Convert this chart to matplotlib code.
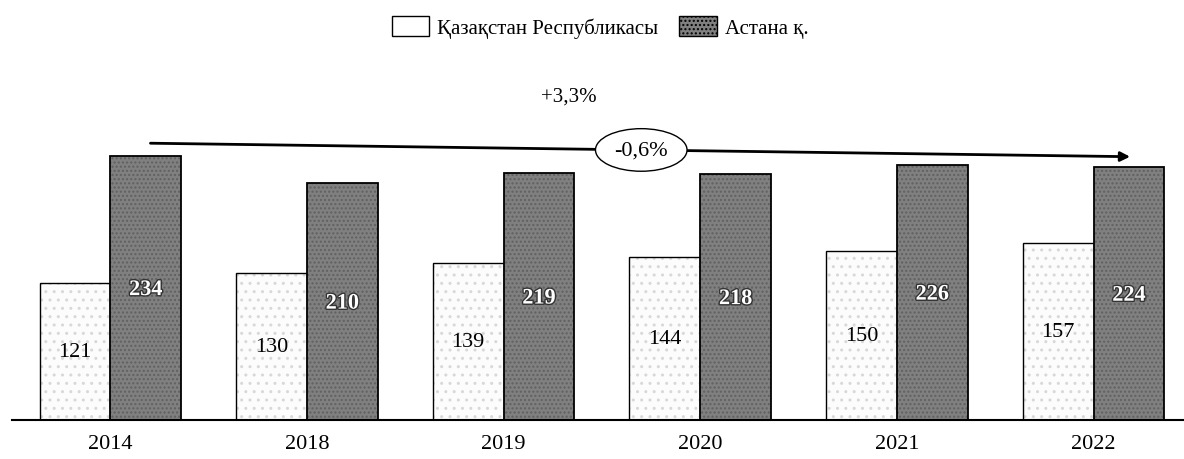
import numpy as np
import matplotlib.pyplot as plt
import matplotlib.patheffects as pe
from matplotlib.patches import Patch

# data
years = ["2014", "2018", "2019", "2020", "2021", "2022"]
kz = [121, 130, 139, 144, 150, 157]
astana = [234, 210, 219, 218, 226, 224]
series_names = ["Қазақстан Республикасы", "Астана қ."]
growth_top = "+3,3%"
growth_arrow = "-0,6%"

plt.rcParams['font.family'] = ['Liberation Serif', 'DejaVu Serif']

fig = plt.figure(figsize=(11.84, 4.6), dpi=100)
ax = fig.add_axes([12 / 1184, 39 / 460, 1172 / 1184, 361 / 460])

x = np.arange(len(years))
w = 0.36

# light bars: fine stipple first, then outline
ax.bar(x - w / 2, kz, w, color="#fcfcfc", hatch="..", edgecolor="#d8d8d8", lw=0)
ax.bar(x - w / 2, kz, w, fill=False, edgecolor="black", lw=1.0)
# dark bars: mottled grey
ax.bar(x + w / 2, astana, w, color="#808080", hatch="....", edgecolor="#606060", lw=0)
ax.bar(x + w / 2, astana, w, fill=False, edgecolor="black", lw=1.3)

for xi, v in zip(x, kz):
    ax.text(xi - w / 2, v / 2, str(v), ha="center", va="center", fontsize=16)
for xi, v in zip(x, astana):
    ax.text(xi + w / 2, v / 2 - 2, str(v), ha="center", va="center", fontsize=16,
            color="white", fontweight="bold",
            path_effects=[pe.withStroke(linewidth=2, foreground="#333333")])

# trend arrow and labels
ax.annotate("", xy=(5.2, 233), xytext=(0.19, 245),
            arrowprops=dict(arrowstyle="-|>", lw=2, color="black", mutation_scale=14))
ax.text(2.7, 239, growth_arrow, ha="center", va="center", fontsize=16,
        bbox=dict(boxstyle="ellipse,pad=0.25", fc="white", ec="black", lw=1))
ax.text(2.33, 287, growth_top, ha="center", va="center", fontsize=15)

ax.set_xlim(-0.5, 5.46)
ax.set_ylim(0, 319.5)
ax.set_xticks(x)
ax.set_xticklabels(years, fontsize=16)
ax.tick_params(axis="x", length=0, pad=10)
ax.set_yticks([])
for s in ["top", "right", "left"]:
    ax.spines[s].set_visible(False)
ax.spines["bottom"].set_linewidth(1.5)

handles = [Patch(facecolor="white", edgecolor="black", lw=1),
           Patch(facecolor="#808080", edgecolor="black", hatch="....", lw=1)]
fig.legend(handles, series_names, loc="center", bbox_to_anchor=(0.507, 0.94), ncol=2,
           frameon=False, fontsize=15, handlelength=1.8, handleheight=1.1,
           columnspacing=1.0, handletextpad=0.4)

fig.savefig("out.png", dpi=100)
